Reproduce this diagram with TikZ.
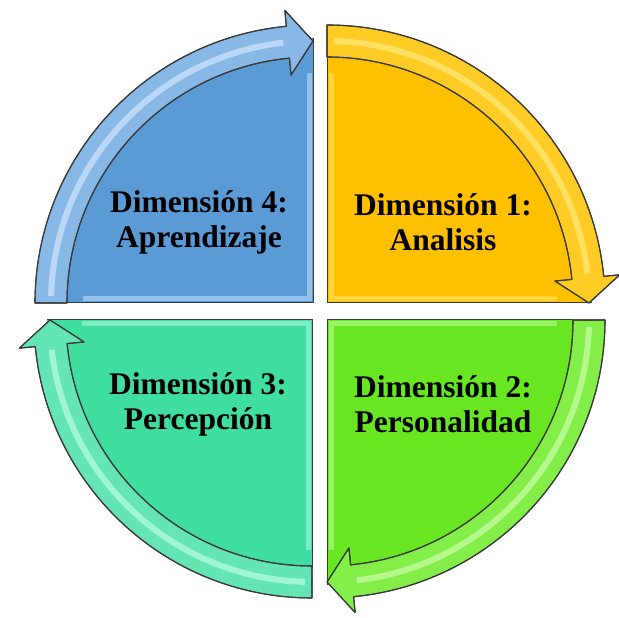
\documentclass[tikz,border=0pt]{standalone}
\usepackage{fontspec}
\setmainfont{Liberation Serif}
\definecolor{edge}{HTML}{3A3A3A}
\definecolor{orsec}{HTML}{FFC000}
\definecolor{orband}{HTML}{FFCC26}
\definecolor{orstripe}{HTML}{FFF08A}
\definecolor{grsec}{HTML}{68E622}
\definecolor{grband}{HTML}{84EE48}
\definecolor{grstripe}{HTML}{D6FFB8}
\definecolor{tlsec}{HTML}{40DDA0}
\definecolor{tlband}{HTML}{64E6B4}
\definecolor{tlstripe}{HTML}{C8FFEA}
\definecolor{blsec}{HTML}{5B9BD5}
\definecolor{blband}{HTML}{88B8E6}
\definecolor{blstripe}{HTML}{DCEEFF}
\newcommand\myquadrant[6]{%
  \begin{scope}[shift={(#1,#2)}, rotate=#3]
    \fill[#4] (0,0) -- (0:265) arc[start angle=0,end angle=90,radius=265] -- cycle;
    \draw[#6, line width=5pt, opacity=0.45] (4,230) -- (4,4) -- (230,4);
    \draw[sectoredge] (0:265) -- (0,0) -- (90:246);
    \draw[bandedge, fill=#5] (90:278) arc[start angle=90,end angle=5.5,radius=278]
      -- (5.5:294) -- (0:262) -- (5.5:229) -- (5.5:246)
      arc[start angle=5.5,end angle=90,radius=246] -- cycle;
    \draw[#6, line width=6pt, opacity=0.6] (88.5:262) arc[start angle=88.5,end angle=6.5,radius=262];
    \draw[bandedge] (90:278) arc[start angle=90,end angle=5.5,radius=278]
      -- (5.5:294) -- (0:262) -- (5.5:229) -- (5.5:246)
      arc[start angle=5.5,end angle=90,radius=246] -- cycle;
  \end{scope}%
}
\begin{document}
\begin{tikzpicture}[x=1pt,y=1pt,
  sectoredge/.style={draw=edge, line width=1pt},
  bandedge/.style={draw=edge, line width=1.1pt, line join=round},
  lbl/.style={font=\fontsize{31.5}{35}\selectfont\bfseries, align=center, text=black}]
  \useasboundingbox (0,0) rectangle (619,618);
  \myquadrant{327}{315}{0}{orsec}{orband}{orstripe}
  \myquadrant{327}{298}{-90}{grsec}{grband}{grstripe}
  \myquadrant{312}{298}{-180}{tlsec}{tlband}{tlstripe}
  \myquadrant{313}{315}{90}{blsec}{blband}{blstripe}
  \node[lbl] (d1) at (443,396) {Dimensión 1:\\Analisis};
  \node[lbl] (d2) at (443,214) {Dimensión 2:\\Personalidad};
  \node[lbl] (d3) at (198,214) {Dimensión 3:\\Percepción};
  \node[lbl] (d4) at (199,396) {Dimensión 4:\\Aprendizaje};
\end{tikzpicture}
\end{document}
